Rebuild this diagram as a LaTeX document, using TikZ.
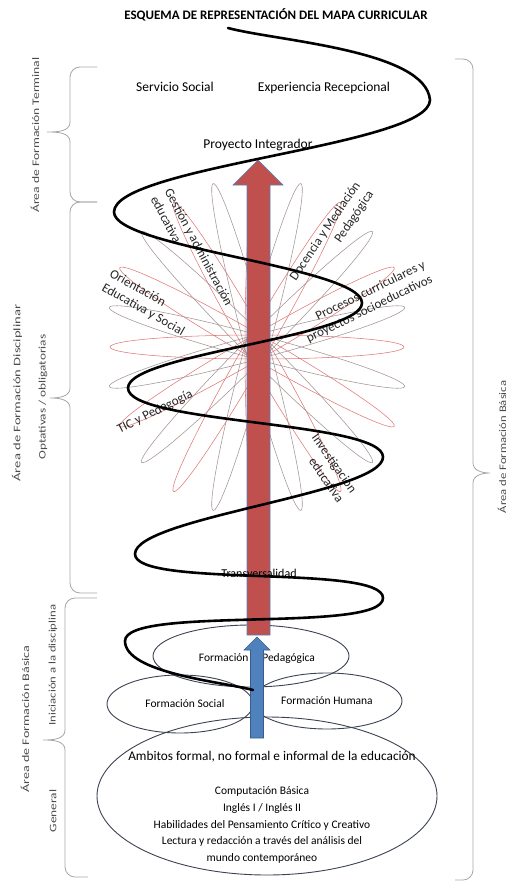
\documentclass[tikz,border=0pt]{standalone}
\usepackage{fontspec}
\setmainfont{Carlito}
\definecolor{arrowred}{HTML}{C0504D}
\definecolor{arrowblue}{HTML}{4F81BD}
\definecolor{blueline}{HTML}{385D8A}
\definecolor{petalred}{HTML}{E07878}
\definecolor{petalgray}{HTML}{A39393}
\definecolor{ringline}{HTML}{3B4252}
\newcommand{\sidetext}[2]{\scalebox{#1}[1]{#2}}

\begin{document}
\begin{tikzpicture}[x=1pt,y=1pt,
    every node/.style={inner sep=0pt},
    title/.style={font=\bfseries\fontsize{13}{15}\selectfont},
    stage/.style={font=\fontsize{13.5}{16}\selectfont},
    course/.style={font=\fontsize{13}{16}\selectfont, text=black!85},
    ring/.style={draw=ringline, line width=0.9pt},
    ringtext/.style={font=\fontsize{11.5}{14}\selectfont},
    side/.style={rotate=90, text=black!70, font=\fontsize{10}{12}\selectfont},
    brk/.style={draw=black!35, line width=0.8pt},
    petal/.style={line width=0.55pt},
    spiral/.style={line width=2.6pt, line cap=round}]
  \useasboundingbox (0,0) rectangle (510,-883);

  % flower of optional courses
  \coordinate (fc) at (257,-347);
  \foreach \a in {0,30,...,150} {
    \begin{scope}[shift={(fc)}, rotate=\a]
      \draw[petal, draw=petalred] (0,0) ellipse [x radius={147+23*abs(sin(\a))}, y radius=12];
    \end{scope}
  }
  \foreach \a in {15,45,...,165} {
    \begin{scope}[shift={(fc)}, rotate=\a]
      \draw[petal, draw=petalgray] (0,0) ellipse [x radius={147+23*abs(sin(\a))}, y radius=12];
    \end{scope}
  }
  \node[course, rotate=-62, align=left] (gest) at (192,-251) {Gestión y administración\\educativa};
  \node[course, rotate=56, align=right] (doc) at (332,-236) {Docencia y Mediación\\Pedagógica};
  \node[course, rotate=-29.5, align=left] (ori) at (147,-303) {Orientación\\Educativa y Social};
  \node[course, rotate=26, align=right] (proc) at (366,-302) {Procesos curriculares y\\proyectos socioeducativos};
  \node[course, rotate=27] (tic) at (155,-412) {TIC y Pedagogía};
  \node[course, rotate=-55, align=right] (inv) at (328,-468) {Investigación\\educativa};

  % basic formation
  \draw[ring] (251,-656) ellipse [x radius=98, y radius=31];
  \draw[ring] (180,-704) ellipse [x radius=73, y radius=29];
  \draw[ring] (327,-701) ellipse [x radius=75, y radius=28];
  \draw[ring] (267,-796) ellipse [x radius=170, y radius=79];
  \node[ringtext] (ped) at (257,-658) {Formación\hspace{1.2em}Pedagógica};
  \node[ringtext] (soc) at (185,-704) {Formación Social};
  \node[ringtext] (hum) at (327,-701) {Formación Humana};
  \node[font=\fontsize{13.3}{16}\selectfont] (amb) at (272,-757) {Ambitos formal, no formal e informal de la educación};
  \node[font=\fontsize{11.5}{16.8}\selectfont, align=center] (gen) at (262,-825)
    {Computación Básica\\Inglés I / Inglés II\\Habilidades del Pensamiento Crítico y Creativo\\Lectura y redacción a través del análisis del\\mundo contemporáneo};

  % arrows
  \filldraw[fill=arrowblue, draw=blueline, line width=0.6pt]
    (250.5,-738) -- (250.5,-650) -- (244,-650) -- (257,-637) -- (270,-650) -- (263.5,-650) -- (263.5,-738) -- cycle;
  \filldraw[fill=arrowred, draw=arrowblue, line width=0.6pt]
    (247,-635) -- (247,-185) -- (233,-185) -- (258,-160) -- (283,-185) -- (270,-185) -- (270,-635) -- cycle;

  % spiral
  \draw[spiral] (228,-28) to[out=-15,in=95,looseness=0.6] (430,-100)
    to[out=-90,in=90,looseness=0.35] (114,-212)
    to[out=-90,in=90,looseness=0.35] (362,-303)
    to[out=-90,in=90,looseness=0.35] (128,-388)
    to[out=-90,in=90,looseness=0.35] (383,-457)
    to[out=-90,in=90,looseness=0.35] (135,-554)
    to[out=-90,in=90,looseness=0.35] (383,-598)
    to[out=-90,in=90,looseness=0.35] (125,-641)
    to[out=-90,in=165,looseness=0.6] (253,-690);

  % texts
  \node[title] (head) at (276,-15) {ESQUEMA DE REPRESENTACIÓN DEL MAPA CURRICULAR};
  \node[stage] (serv) at (175,-87) {Servicio Social};
  \node[stage] (exp) at (324,-88) {Experiencia Recepcional};
  \node[stage] (proy) at (258,-145) {Proyecto Integrador};
  \node[font=\fontsize{12}{14}\selectfont] (trans) at (259,-573) {Transversalidad};

  % braces
  \draw[brk] (97,-67) -- (80,-67) to[out=180,in=90] (70,-77) -- (70,-122)
    to[out=-90,in=0] (47,-132) to[out=0,in=90] (70,-142) -- (70,-192)
    to[out=-90,in=180] (80,-202) -- (97,-202);
  \draw[brk] (97,-202) -- (80,-202) to[out=180,in=90] (70,-212) -- (70,-388)
    to[out=-90,in=0] (50,-398) to[out=0,in=90] (70,-408) -- (70,-583)
    to[out=-90,in=180] (80,-593) -- (97,-593);
  \draw[brk] (97,-598) -- (75,-598) to[out=180,in=90] (65,-608) -- (65,-730)
    to[out=-90,in=0] (43,-740) to[out=0,in=90] (65,-750) -- (65,-867)
    to[out=-90,in=180] (75,-877) -- (88,-877);
  \draw[brk] (455,-59) -- (463,-59) to[out=0,in=90] (473,-69) -- (473,-463)
    to[out=-90,in=180] (490,-473) to[out=180,in=90] (473,-483) -- (473,-870)
    to[out=-90,in=0] (463,-880) -- (455,-880);

  \node[side] (term) at (35,-135) {\sidetext{1.36}{Área de Formación Terminal}};
  \node[side] (disc) at (17,-393) {\sidetext{1.46}{Área de Formación Disciplinar}};
  \node[side] (opt) at (43,-397) {\sidetext{1.33}{Optativas / obligatorias}};
  \node[side] (basl) at (25,-719) {\sidetext{1.41}{Área de Formación Básica}};
  \node[side] (ini) at (53,-665) {\sidetext{1.27}{Iniciación a la disciplina}};
  \node[side] (gnl) at (53,-811) {\sidetext{1.34}{General}};
  \node[side] (basr) at (502,-447) {\sidetext{1.27}{Área de Formación Básica}};
\end{tikzpicture}
\end{document}
